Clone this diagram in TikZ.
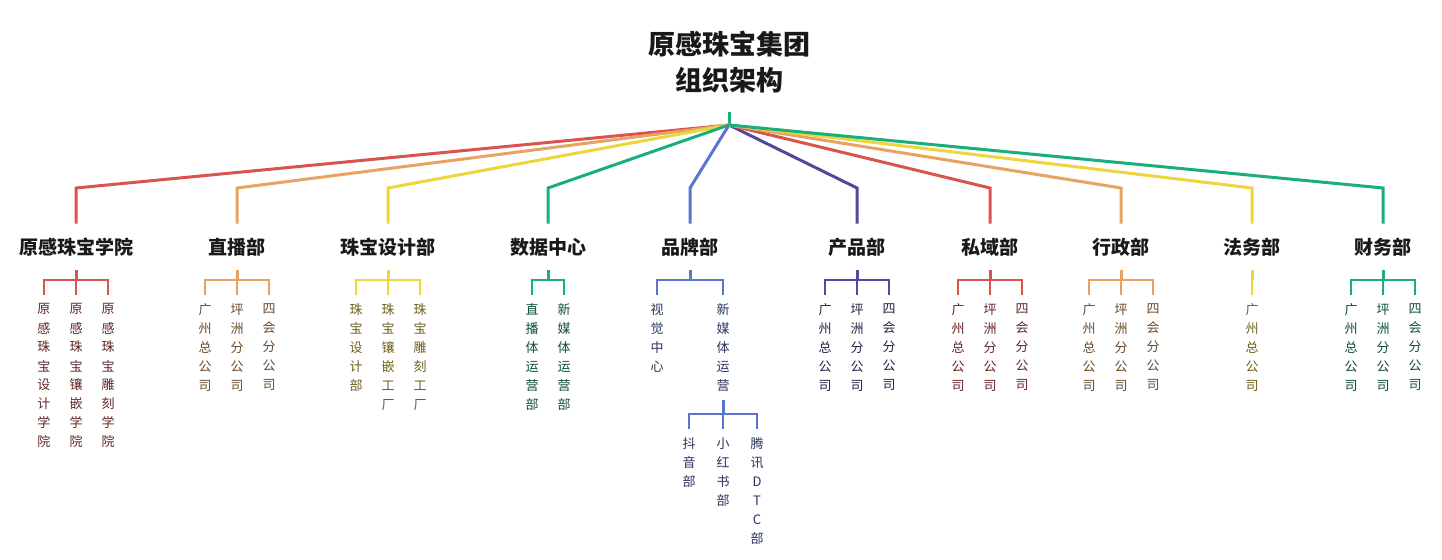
\documentclass[tikz,border=0pt]{standalone}
\usepackage{fontspec}
\setmainfont{Noto Sans CJK SC}
\usetikzlibrary{calc}
\definecolor{cred}{HTML}{D9534F}
\definecolor{corange}{HTML}{E8A262}
\definecolor{cyellow}{HTML}{EDD63C}
\definecolor{cgreen}{HTML}{1AAE7A}
\definecolor{cblue}{HTML}{5B74D0}
\definecolor{cpurple}{HTML}{55479E}
% one row of vertical labels under a parent node
\newcommand{\kidrow}[4]{%
  \coordinate (#1-b) at ($(#1.south)+(0,#3)$);
  \draw[branch,#2] (#1.south) -- (#1-b);
  \foreach \x/\t [count=\i] in {#4} {
    \coordinate (#1-k\i) at (\x,0);
    \node[kid,text=#2!45!black] (#1-\i) at (#1-k\i |- #1-b) [yshift=-7.5pt] {\t};
    \draw[kidline,#2] (#1-\i.north) |- (#1-b);
  }%
}
\begin{document}
\begin{tikzpicture}[x=0.5pt,y=-0.5pt,
branch/.style={line width=1.5pt},
kidline/.style={line width=1pt},
dept/.style={font=\fontsize{9.5}{11}\selectfont\bfseries,text=black!90,minimum height=23pt,inner sep=1pt},
kid/.style={anchor=north,align=center,inner xsep=0.5pt,inner ysep=4pt,font=\fontsize{6.5}{9.5}\selectfont}
]
\useasboundingbox (0,0) rectangle (1442,560);
\node[align=center,font=\fontsize{13.5}{18}\selectfont\bfseries,text=black!90] (title) at (729,62) {原感珠宝集团\\组织架构};
\coordinate (stem) at (729,112);
\coordinate (top) at (729,125);
\draw[branch,cgreen] (stem) -- (top);
\foreach \n/\x/\c/\t in {
  d1/76/cred/原感珠宝学院,
  d2/237/corange/直播部,
  d3/388/cyellow/珠宝设计部,
  d4/548/cgreen/数据中心,
  d5/690/cblue/品牌部,
  d6/857/cpurple/产品部,
  d7/990/cred/私域部,
  d8/1121/corange/行政部,
  d9/1252/cyellow/法务部,
  d10/1383/cgreen/财务部}
  {
  \node[dept] (\n) at (\x,247) {\t};
  \draw[branch,\c] (top) -- (\x,188) -- (\n.north);
  }
\kidrow{d1}{cred}{10}{44/{原\\感\\珠\\宝\\设\\计\\学\\院},76/{原\\感\\珠\\宝\\镶\\嵌\\学\\院},108/{原\\感\\珠\\宝\\雕\\刻\\学\\院}}
\kidrow{d2}{corange}{10}{205/{广\\州\\总\\公\\司},237/{坪\\洲\\分\\公\\司},269/{四\\会\\分\\公\\司}}
\kidrow{d3}{cyellow}{10}{356/{珠\\宝\\设\\计\\部},388/{珠\\宝\\镶\\嵌\\工\\厂},420/{珠\\宝\\雕\\刻\\工\\厂}}
\kidrow{d4}{cgreen}{10}{532/{直\\播\\体\\运\\营\\部},564/{新\\媒\\体\\运\\营\\部}}
\kidrow{d5}{cblue}{10}{657/{视\\觉\\中\\心},723/{新\\媒\\体\\运\\营}}
\kidrow{d5-2}{cblue}{14}{689/{抖\\音\\部},723/{小\\红\\书\\部},757/{腾\\讯\\D\\T\\C\\部}}
\kidrow{d6}{cpurple}{10}{825/{广\\州\\总\\公\\司},857/{坪\\洲\\分\\公\\司},889/{四\\会\\分\\公\\司}}
\kidrow{d7}{cred}{10}{958/{广\\州\\总\\公\\司},990/{坪\\洲\\分\\公\\司},1022/{四\\会\\分\\公\\司}}
\kidrow{d8}{corange}{10}{1089/{广\\州\\总\\公\\司},1121/{坪\\洲\\分\\公\\司},1153/{四\\会\\分\\公\\司}}
\kidrow{d9}{cyellow}{10}{1252/{广\\州\\总\\公\\司}}
\kidrow{d10}{cgreen}{10}{1351/{广\\州\\总\\公\\司},1383/{坪\\洲\\分\\公\\司},1415/{四\\会\\分\\公\\司}}
\end{tikzpicture}
\end{document}
